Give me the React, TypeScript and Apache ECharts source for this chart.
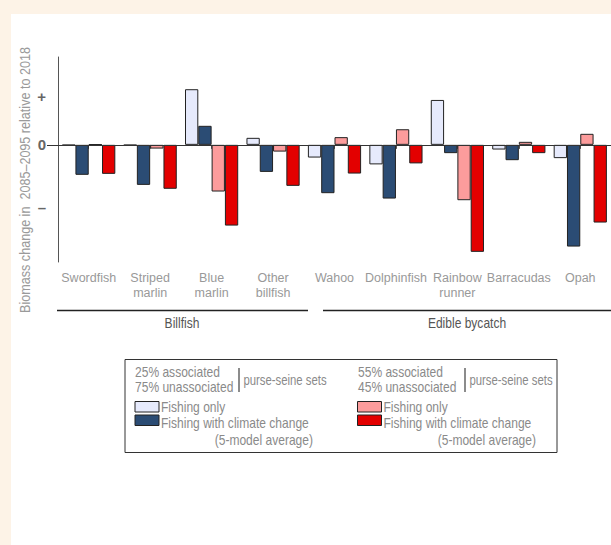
import React, { useEffect, useRef } from "react";
import * as echarts from "echarts";

const categories = ["Swordfish", "Striped\nmarlin", "Blue\nmarlin", "Other\nbillfish", "Wahoo", "Dolphinfish", "Rainbow\nrunner", "Barracudas", "Opah"];
const fishingOnly25 = [-0.005, -0.005, 0.57, 0.072, -0.13, -0.2, 0.46, -0.048, -0.136];
const climate25 = [-0.307, -0.41, 0.195, -0.277, -0.495, -0.55, -0.085, -0.157, -1.042];
const fishingOnly55 = [0.004, -0.038, -0.478, -0.069, 0.079, 0.16, -0.567, 0.031, 0.113];
const climate55 = [-0.297, -0.45, -0.827, -0.42, -0.294, -0.19, -1.096, -0.085, -0.796];

const seriesNames = ["Fishing only (25%)", "Fishing with climate change (25%)", "Fishing only (55%)", "Fishing with climate change (55%)"];
const yTickValues = [0.5, 0, -0.645];
const yTickLabels = ["+", "0", "–"];
const groupNames = ["Billfish", "Edible bycatch"];
const yTitle = "Biomass change in  2085–2095 relative to 2018";
const legendHeads = [["25% associated", "75% unassociated"], ["55% associated", "45% unassociated"]];
const legendPurse = "purse-seine sets";
const legendItems = ["Fishing only", "Fishing with climate change", "(5-model average)"];

const COLORS = ["#e6eafc", "#2b4c74", "#fc9c9c", "#e30000"];
const FONT = "'Liberation Sans', Arial, sans-serif";
const TXT = "#8a8a8a";
const SX = 0.86;

export default function App() {
  const ref = useRef<HTMLDivElement>(null);
  useEffect(() => {
    const chart = echarts.init(ref.current!, null, { renderer: "svg" });
    const dataSets = [fishingOnly25, climate25, fishingOnly55, climate55];
    const series: any[] = dataSets.map((d, i) => ({
      name: seriesNames[i],
      type: "bar",
      data: d,
      barWidth: 13.3,
      barGap: "0%",
      itemStyle: { color: COLORS[i], borderColor: "#222", borderWidth: 1 },
      ...(i === 0
        ? {
            markLine: {
              silent: true,
              symbol: "none",
              label: { show: false },
              lineStyle: { color: "#333", width: 1, type: "solid" },
              data: [{ yAxis: 0 }],
              z: 10,
            },
          }
        : {}),
    }));

    const t = (text: string, x: number, y: number, align = "left", fill = TXT, sx = SX) => ({
      type: "text",
      x,
      y,
      scaleX: sx,
      style: { text, fill, font: `14px ${FONT}`, textAlign: align, textVerticalAlign: "middle" },
    });

    const legendGroup = (side: number) => {
      const dx = side === 0 ? 0 : 223;
      const els: any[] = [];
      els.push(t(legendHeads[side][0], 135 + dx, 372));
      els.push(t(legendHeads[side][1], 135 + dx, 387.5));
      const bx = side === 0 ? 239 : 465;
      els.push({ type: "line", shape: { x1: bx, y1: 368, x2: bx, y2: 392 }, style: { stroke: "#666", lineWidth: 1.5 } });
      els.push(t(legendPurse, bx + 4.5, 380, "left", TXT, 0.81));
      const sx = side === 0 ? 135 : 357.5;
      els.push({ type: "rect", shape: { x: sx, y: 401.5, width: 24, height: 10.5 }, style: { fill: COLORS[side * 2], stroke: "#222", lineWidth: 1 } });
      els.push({ type: "rect", shape: { x: sx, y: 415, width: 24, height: 10.5 }, style: { fill: COLORS[side * 2 + 1], stroke: "#222", lineWidth: 1 } });
      els.push(t(legendItems[0], sx + 26, 407));
      els.push(t(legendItems[1], sx + 26, 423));
      els.push(t(legendItems[2], side === 0 ? 313 : 536, 440.5, "right"));
      return els;
    };

    chart.setOption({
      animation: false,
      backgroundColor: "#ffffff",
      grid: { left: 58, top: 57, height: 205, right: -8.6, containLabel: false },
      xAxis: {
        type: "category",
        data: categories,
        axisLine: { show: true, lineStyle: { color: "#555", width: 1 } },
        axisTick: { show: true, alignWithLabel: true, length: 4, lineStyle: { color: "#555" } },
        axisLabel: { color: "#999", fontFamily: FONT, fontSize: 12.5, lineHeight: 15, margin: 8, interval: 0 },
        splitLine: { show: false },
      },
      yAxis: {
        type: "value",
        min: -1.2,
        max: 0.9,
        axisLine: { show: true, lineStyle: { color: "#555", width: 1 } },
        axisTick: { show: true, customValues: [0], length: 11, lineStyle: { color: "#333" } },
        axisLabel: {
          customValues: yTickValues,
          formatter: (v: number) => {
            const i = yTickValues.findIndex((tv) => Math.abs(tv - v) < 1e-6);
            return i >= 0 ? yTickLabels[i] : "";
          },
          color: "#666",
          fontWeight: "bold",
          fontFamily: FONT,
          fontSize: 15,
          margin: 12,
        },
        splitLine: { show: false },
      },
      series,
      graphic: [
        { type: "rect", shape: { x: 0, y: 0, width: 611, height: 14 }, style: { fill: "#fdf3e7" }, silent: true },
        { type: "rect", shape: { x: 0, y: 0, width: 11, height: 545 }, style: { fill: "#fdf3e7" }, silent: true },
        {
          type: "text",
          x: 25,
          y: 180,
          rotation: Math.PI / 2,
          scaleX: 0.9,
          style: { text: yTitle, fill: "#9a9a9a", font: `14px ${FONT}`, textAlign: "center", textVerticalAlign: "middle" },
        },
        { type: "line", shape: { x1: 57, y1: 310.5, x2: 308, y2: 310.5 }, style: { stroke: "#222", lineWidth: 1.5 } },
        { type: "line", shape: { x1: 323, y1: 310.5, x2: 611, y2: 310.5 }, style: { stroke: "#222", lineWidth: 1.5 } },
        t(groupNames[0], 182, 323, "center", "#555"),
        t(groupNames[1], 467, 323, "center", "#555"),
        { type: "rect", shape: { x: 125, y: 359.5, width: 432, height: 93 }, style: { fill: "#fff", stroke: "#333", lineWidth: 1 } },
        ...legendGroup(0),
        ...legendGroup(1),
      ],
    });
    return () => chart.dispose();
  }, []);
  return <div ref={ref} style={{ position: "fixed", left: 0, top: 0, width: 611, height: 545 }} />;
}
